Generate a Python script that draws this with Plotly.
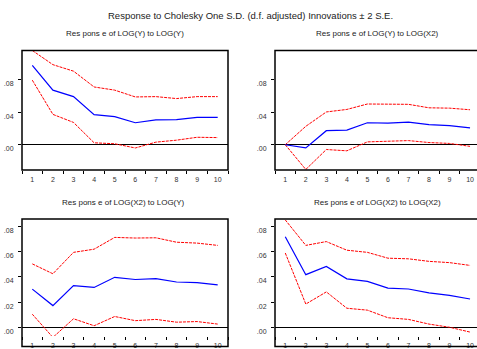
import plotly.graph_objects as go

periods = list(range(1, 11))

# Response of LOG(Y) to LOG(Y)
yy_resp = [0.0979, 0.0673, 0.0593, 0.0370, 0.0346, 0.0271, 0.0306, 0.0310, 0.0338, 0.0338]
yy_upper = [0.1162, 0.0987, 0.0907, 0.0712, 0.0673, 0.0589, 0.0593, 0.0569, 0.0593, 0.0593]
yy_lower = [0.0796, 0.0374, 0.0275, 0.0024, 0.0012, -0.0040, 0.0032, 0.0056, 0.0092, 0.0088]

# Response of LOG(Y) to LOG(X2)
yx_resp = [0.0, -0.0039, 0.0173, 0.0180, 0.0271, 0.0267, 0.0278, 0.0247, 0.0235, 0.0208]
yx_upper = [0.0, 0.0227, 0.0404, 0.0435, 0.0502, 0.0498, 0.0498, 0.0455, 0.0451, 0.0431]
yx_lower = [0.0, -0.0305, -0.0059, -0.0075, 0.0035, 0.0039, 0.0051, 0.0027, 0.0016, -0.0020]

# Response of LOG(X2) to LOG(Y)
xy_resp = [0.0304, 0.0174, 0.0332, 0.0317, 0.0397, 0.0380, 0.0387, 0.0360, 0.0355, 0.0337]
xy_upper = [0.0503, 0.0425, 0.0594, 0.0619, 0.0712, 0.0707, 0.0709, 0.0674, 0.0667, 0.0649]
xy_lower = [0.0106, -0.0077, 0.0070, 0.0015, 0.0088, 0.0055, 0.0065, 0.0043, 0.0048, 0.0028]

# Response of LOG(X2) to LOG(X2)
xx_resp = [0.0717, 0.0418, 0.0483, 0.0385, 0.0365, 0.0312, 0.0305, 0.0274, 0.0254, 0.0226]
xx_upper = [0.0850, 0.0649, 0.0679, 0.0611, 0.0594, 0.0548, 0.0543, 0.0523, 0.0513, 0.0491]
xx_lower = [0.0589, 0.0186, 0.0282, 0.0153, 0.0138, 0.0078, 0.0065, 0.0028, 0.0003, -0.0035]

main_title = "Response to Cholesky One S.D. (d.f. adjusted) Innovations \u00b1 2 S.E."
panel_titles = [
    "Res pons e of LOG(Y) to LOG(Y)",
    "Res pons e of LOG(Y) to LOG(X2)",
    "Res pons e of LOG(X2) to LOG(Y)",
    "Res pons e of LOG(X2) to LOG(X2)",
]
top_ticks = [0.0, 0.04, 0.08]
top_ticktext = [".00", ".04", ".08"]
bot_ticks = [0.0, 0.02, 0.04, 0.06, 0.08]
bot_ticktext = [".00", ".02", ".04", ".06", ".08"]

W, H = 477, 349
def px(x):
    return x / W
def py(y):
    return 1 - y / H

panels = [
    (yy_resp, yy_upper, yy_lower),
    (yx_resp, yx_upper, yx_lower),
    (xy_resp, xy_upper, xy_lower),
    (xx_resp, xx_upper, xx_lower),
]

fig = go.Figure()
for i, (resp, up, lo) in enumerate(panels):
    suffix = "" if i == 0 else str(i + 1)
    xa, ya = "x" + suffix, "y" + suffix
    fig.add_trace(go.Scatter(x=periods, y=up, mode="lines", xaxis=xa, yaxis=ya,
                             line=dict(color="#FF0000", width=1, dash="3px,1px"), showlegend=False))
    fig.add_trace(go.Scatter(x=periods, y=lo, mode="lines", xaxis=xa, yaxis=ya,
                             line=dict(color="#FF0000", width=1, dash="3px,1px"), showlegend=False))
    fig.add_trace(go.Scatter(x=periods, y=resp, mode="lines", xaxis=xa, yaxis=ya,
                             line=dict(color="#0000FF", width=1.2), showlegend=False))

tick_font = dict(family="Liberation Sans, Arial, sans-serif", size=7, color="#333333")
minor_vals = [k + 0.5 for k in range(0, 11)]

# pixel geometry
left_x = (22, 228)
right_x = (275, 480.6)
top_y = (52.5, 176.7)
bot_y = (227.5, 360)

def xaxis_cfg(xr, rng):
    return dict(domain=[px(xr[0]), min(1, px(xr[1]))], range=rng, showgrid=False, zeroline=False,
                showline=False, tickvals=periods, ticktext=[str(p) for p in periods],
                ticks="", tickfont=tick_font, ticklabelstandoff=4,
                minor=dict(tickvals=minor_vals, ticks="outside", ticklen=3, tickcolor="black", tickwidth=1))

def yaxis_cfg(yr, rng, tv, tt, anchor):
    return dict(domain=[max(0, py(yr[1])), py(yr[0])], range=rng, showgrid=False,
                zeroline=True, zerolinecolor="black", zerolinewidth=1,
                showline=False, tickvals=tv, ticktext=tt, ticks="outside", ticklen=3,
                tickcolor="black", tickwidth=1, tickfont=tick_font, anchor=anchor,
                ticklabelstandoff=3, ticklabelshift=4)

top_range = [-0.0313, 0.1161]
bot_range = [-0.0066, 0.0857]
right_range = [0.5, 0.5 + (W - right_x[0]) / 20.53]

fig.update_layout(
    width=W, height=H,
    margin=dict(l=0, r=0, t=0, b=0),
    paper_bgcolor="white", plot_bgcolor="white",
    xaxis=dict(xaxis_cfg(left_x, [0.5, 10.5]), anchor="y"),
    yaxis=yaxis_cfg(top_y, top_range, top_ticks, top_ticktext, "x"),
    xaxis2=dict(xaxis_cfg(right_x, right_range), anchor="y2"),
    yaxis2=yaxis_cfg(top_y, top_range, top_ticks, top_ticktext, "x2"),
    xaxis3=dict(xaxis_cfg(left_x, [0.5, 10.5]), anchor="y3"),
    yaxis3=yaxis_cfg((bot_y[0], H), bot_range, bot_ticks, bot_ticktext, "x3"),
    xaxis4=dict(xaxis_cfg(right_x, right_range), anchor="y4"),
    yaxis4=yaxis_cfg((bot_y[0], H), bot_range, bot_ticks, bot_ticktext, "x4"),
)

# frames
frames = [(left_x, top_y), (right_x, top_y), (left_x, bot_y), (right_x, bot_y)]
for (xr, yr) in frames:
    fig.add_shape(type="rect", xref="paper", yref="paper",
                  x0=px(xr[0]), x1=px(xr[1]), y0=py(yr[1]), y1=py(yr[0]),
                  line=dict(color="black", width=1.5), fillcolor="rgba(0,0,0,0)", layer="above")

title_font = dict(family="Liberation Sans, Arial, sans-serif", size=9.5, color="#222222")
sub_font = dict(family="Liberation Sans, Arial, sans-serif", size=8, color="#222222")
fig.add_annotation(text=main_title, x=px(250.5), y=py(16.5), xref="paper", yref="paper",
                   showarrow=False, font=title_font, xanchor="center", yanchor="middle")
sub_pos = [(124.5, 35), (377, 35), (124, 210), (377, 210)]
for t, (x, y) in zip(panel_titles, sub_pos):
    fig.add_annotation(text=t, x=px(x), y=py(y), xref="paper", yref="paper",
                       showarrow=False, font=sub_font, xanchor="center", yanchor="middle")

fig.write_html("out.html")
